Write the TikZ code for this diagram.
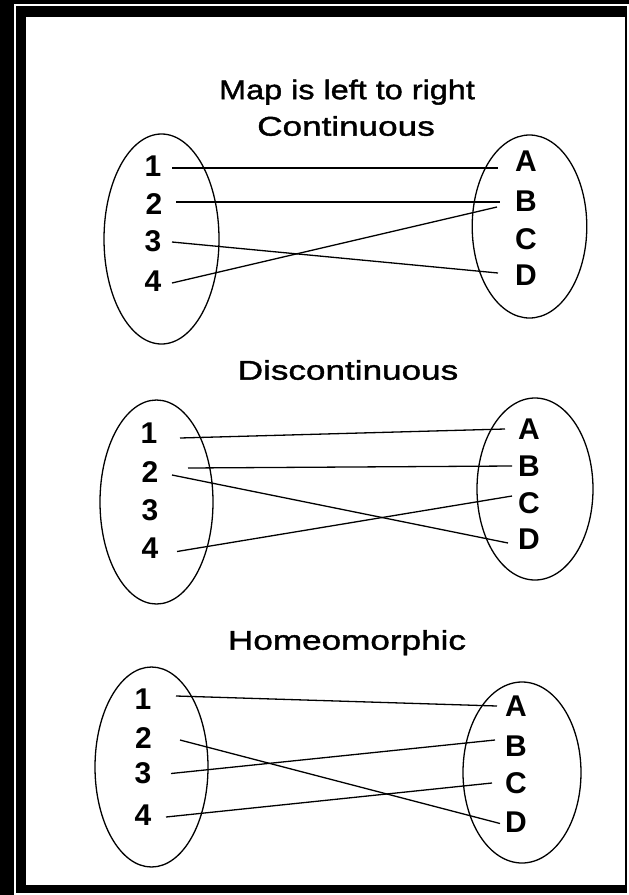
\documentclass[tikz,border=0pt]{standalone}
\usepackage{fontspec}
\newfontfamily\titlefont{Liberation Sans}[FakeStretch=1.2,FakeBold=1.5]
\newfontfamily\titlefontw{Liberation Sans}[FakeStretch=1.3,FakeBold=1.5]
\newfontfamily\labfont{Liberation Sans Bold}
\begin{document}
\begin{tikzpicture}[x=1pt,y=-1pt,
  title/.style={font=\titlefont\fontsize{27}{27}\selectfont, inner sep=0pt, text height=19.3pt, text depth=0pt},
  titlew/.style={title, font=\titlefontw\fontsize{27}{27}\selectfont},
  lab/.style={font=\labfont\fontsize{30}{30}\selectfont, inner sep=0pt, text height=21.5pt, text depth=0pt},
  setline/.style={draw=black, line width=1.3pt},
  mapline/.style={draw=black, line width=1.3pt}]
\useasboundingbox (0,0) rectangle (629,895);
% frame
\fill[black] (0,0) rectangle (629,895);
\draw[white, line width=1.2pt] (15,5) rectangle (628,894);
\fill[white] (26,17) rectangle (625,885);

% titles
\node[title] (t0) at (347,89.5) {Map is left to right};
\node[titlew] (t1) at (346,126) {Continuous};
\node[titlew] (t2) at (348,370) {Discontinuous};
\node[titlew] (t3) at (347,640) {Homeomorphic};

% ---------- Continuous ----------
\draw[setline] (161.5,239) ellipse [x radius=57.5, y radius=105];
\draw[setline] (529.5,226.5) ellipse [x radius=57.3, y radius=91.5];
\node[lab] (a1) at (153,166) {1};
\node[lab] (a2) at (154,204) {2};
\node[lab] (a3) at (153,241) {3};
\node[lab] (a4) at (153,281) {4};
\node[lab] (aA) at (526,161) {A};
\node[lab] (aB) at (526,201) {B};
\node[lab] (aC) at (526,239) {C};
\node[lab] (aD) at (526,275) {D};
\draw[mapline] ([shift={(19,2)}]a1.center) -- ([shift={(-28,7)}]aA.center);
\draw[mapline] ([shift={(22,-2)}]a2.center) -- ([shift={(-26,1)}]aB.center);
\draw[mapline] ([shift={(19,1)}]a3.center) -- ([shift={(-28,-2)}]aD.center);
\draw[mapline] ([shift={(19,2)}]a4.center) -- ([shift={(-29,6)}]aB.center);

% ---------- Discontinuous ----------
\draw[setline] (156.5,502) ellipse [x radius=56.5, y radius=102];
\draw[setline] (535,489) ellipse [x radius=58, y radius=91];
\node[lab] (b1) at (149,433) {1};
\node[lab] (b2) at (150,472) {2};
\node[lab] (b3) at (150,510) {3};
\node[lab] (b4) at (150,547.5) {4};
\node[lab] (bA) at (529,429) {A};
\node[lab] (bB) at (529,466) {B};
\node[lab] (bC) at (529,502.5) {C};
\node[lab] (bD) at (529,539) {D};
\draw[mapline] ([shift={(31,5)}]b1.center) -- ([shift={(-24,0)}]bA.center);
\draw[mapline] ([shift={(38,-4)}]b2.center) -- ([shift={(-17,0)}]bB.center);
\draw[mapline] ([shift={(22,3)}]b2.center) -- ([shift={(-21,4)}]bD.center);
\draw[mapline] ([shift={(27,4)}]b4.center) -- ([shift={(-17,-6.5)}]bC.center);

% ---------- Homeomorphic ----------
\draw[setline] (151.5,767) ellipse [x radius=56.5, y radius=100];
\draw[setline] (522,772.5) ellipse [x radius=59, y radius=90.5];
\node[lab] (c1) at (143,699) {1};
\node[lab] (c2) at (143.5,737.5) {2};
\node[lab] (c3) at (143,772.5) {3};
\node[lab] (c4) at (143,815) {4};
\node[lab] (cA) at (516,706) {A};
\node[lab] (cB) at (516,746) {B};
\node[lab] (cC) at (516,783) {C};
\node[lab] (cD) at (516,821.5) {D};
\draw[mapline] ([shift={(33,-3)}]c1.center) -- ([shift={(-19,0)}]cA.center);
\draw[mapline] ([shift={(36.5,2.5)}]c2.center) -- ([shift={(-16,2)}]cD.center);
\draw[mapline] ([shift={(28,1)}]c3.center) -- ([shift={(-21,-6)}]cB.center);
\draw[mapline] ([shift={(23,2)}]c4.center) -- ([shift={(-24,0)}]cC.center);
\end{tikzpicture}
\end{document}
